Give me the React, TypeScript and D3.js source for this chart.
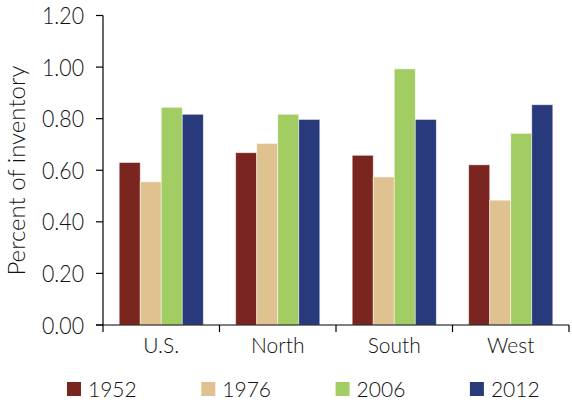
import React from "react";
import * as d3 from "d3";

const categories = ["U.S.", "North", "South", "West"];
const seriesNames = ["1952", "1976", "2006", "2012"];
const v1952 = [0.63, 0.668, 0.658, 0.621];
const v1976 = [0.555, 0.704, 0.574, 0.484];
const v2006 = [0.844, 0.817, 0.993, 0.743];
const v2012 = [0.817, 0.797, 0.797, 0.854];
const yTicks = [0, 0.2, 0.4, 0.6, 0.8, 1.0, 1.2];
const colors = ["#7B2520", "#E0C190", "#A2CD63", "#283A7C"];

const series = [v1952, v1976, v2006, v2012];

export default function App() {
  const W = 572, H = 403;
  const left = 103, right = 569, top = 15.5, bottom = 325;
  const font = "Lato, 'Open Sans', sans-serif";
  const x = d3.scaleBand<string>().domain(categories).range([left, right]).paddingInner(0).paddingOuter(0);
  const inner = d3.scaleBand<string>().domain(seriesNames).range([0, x.bandwidth()]).paddingOuter(0.77).paddingInner(0);
  const y = d3.scaleLinear().domain([0, 1.2]).range([bottom, top]);
  const boundaries = [...categories.map((c) => x(c)!), right];
  return (
    <svg width={W} height={H} style={{ position: "absolute", left: 0, top: 0 }} fontFamily={font}>
      <rect width={W} height={H} fill="#fff" />
      {series.map((vals, si) =>
        vals.map((v, ci) => (
          <rect
            key={`${si}-${ci}`}
            x={x(categories[ci])! + inner(seriesNames[si])!}
            y={y(v)}
            width={inner.bandwidth()}
            height={bottom - y(v)}
            fill={colors[si]}
            stroke="#ffffff"
            strokeOpacity={0.6}
            strokeWidth={0.8}
          />
        ))
      )}
      <line x1={left} x2={left} y1={top} y2={bottom} stroke="#000" strokeWidth={1.2} />
      <line x1={left - 7} x2={right} y1={bottom} y2={bottom} stroke="#000" strokeWidth={1.2} />
      {yTicks.map((t) => (
        <g key={t}>
          <line x1={left - 7} x2={left} y1={y(t)} y2={y(t)} stroke="#000" strokeWidth={1.2} />
          <text
            x={84}
            y={y(t)}
            dy="0.36em"
            textAnchor="end"
            fontSize={24}
            fontWeight={300}
            fill="#111"
            textLength={42}
            lengthAdjust="spacingAndGlyphs"
          >
            {t.toFixed(2)}
          </text>
        </g>
      ))}
      {boundaries.map((b, i) => (
        <line key={i} x1={b} x2={b} y1={bottom} y2={bottom + 7} stroke="#000" strokeWidth={1.2} />
      ))}
      {categories.map((c) => (
        <text key={c} x={x(c)! + x.bandwidth() / 2} y={353} textAnchor="middle" fontSize={21} fontWeight={300} fill="#111">
          {c}
        </text>
      ))}
      <text
        transform={`translate(25, ${170.5}) rotate(-90)`}
        textAnchor="middle"
        fontSize={24}
        fontWeight={300}
        fill="#111"
      >
        Percent of inventory
      </text>
      {seriesNames.map((s, i) => (
        <g key={s} transform={`translate(${67 + i * 134.3}, 382)`}>
          <rect width={14} height={14} fill={colors[i]} />
          <text x={21} y={7} dy="0.38em" fontSize={21} fontWeight={300} fill="#111">
            {s}
          </text>
        </g>
      ))}
    </svg>
  );
}
